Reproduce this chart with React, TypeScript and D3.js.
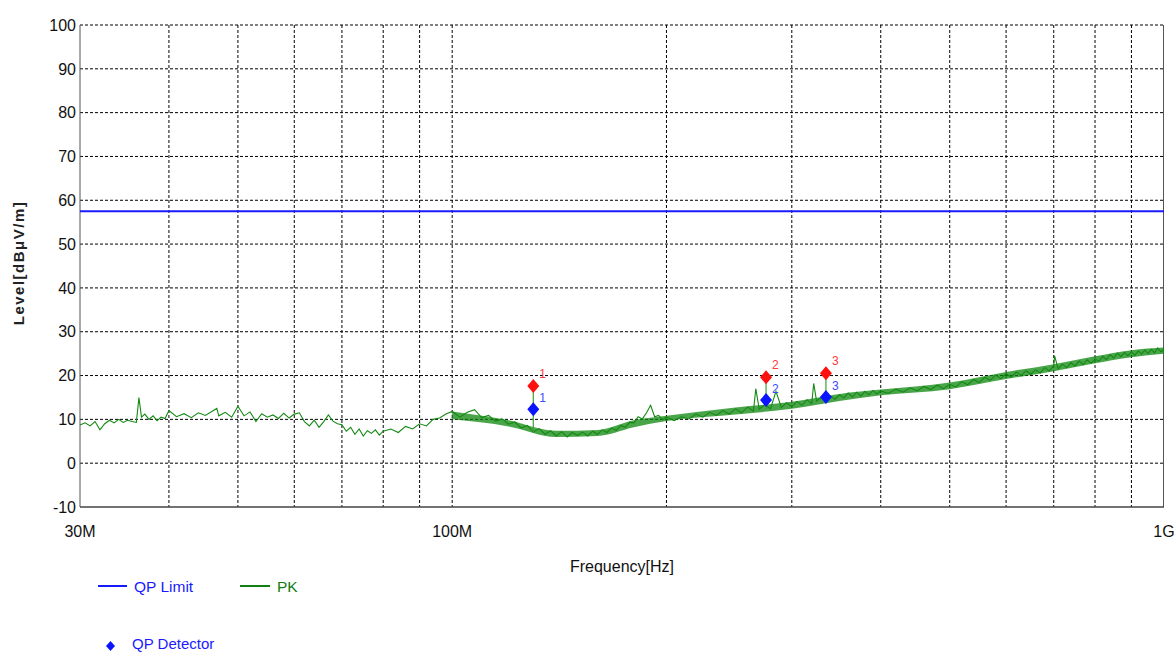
import React from "react";
import * as d3 from "d3";

// axis ticks
const yTicks = [-10, 0, 10, 20, 30, 40, 50, 60, 70, 80, 90, 100];
const xGrid = [40, 50, 60, 70, 80, 90, 100, 200, 300, 400, 500, 600, 700, 800, 900];
const xLabels: [number, string][] = [
  [30, "30M"],
  [100, "100M"],
  [1000, "1G"],
];

// QP limit (dBµV/m)
const limitLevel = 57.5;

// final measurement markers
const markerFreq = [130, 276, 335];
const markerPeak = [17.6, 19.6, 20.5];
const markerQP = [12.3, 14.4, 15.1];

// PK sweep, [MHz, dBµV/m]
const pkTrace: [number, number][] = [
  [30, 8.7], [30.5, 9.2], [31, 8.5], [31.5, 9.5], [32, 7.6], [32.5, 9.0], [33, 9.8], [33.5, 9.2],
  [34, 10.0], [34.5, 9.3], [35, 9.8], [35.5, 9.5], [36, 9.3], [36.3, 15.0], [36.6, 10.5], [37, 11.2],
  [37.5, 10.0], [38, 10.8], [38.5, 9.7], [39, 10.5], [39.5, 10.2], [40, 12.0], [41, 10.6], [42, 11.3],
  [43, 10.4], [44, 11.5], [45, 10.9], [46.7, 12.5], [47, 10.8], [48, 11.6], [49, 10.5], [50, 13.0],
  [51, 10.8], [52, 11.7], [53, 9.5], [54, 11.3], [55, 10.5], [56, 11.0], [57, 10.2], [58, 11.4],
  [59, 10.3], [60, 11.2], [61, 11.5], [62, 9.5], [63, 8.5], [64, 9.8], [65, 8.2], [66, 9.5],
  [67, 11.0], [68, 9.6], [69, 9.0], [70, 8.8], [71, 7.3], [72, 8.2], [73, 6.6], [74, 7.8],
  [75, 6.2], [76, 7.4], [77, 6.8], [78, 7.6], [79, 6.4], [80, 7.3], [82, 7.8], [84, 7.0],
  [86, 8.4], [88, 7.8], [90, 9.0], [92, 8.5], [94, 10.0], [96, 10.3], [98, 11.2], [100, 11.8],
  [102.5, 10.5], [105, 11.6], [107.5, 12.2], [110, 10.4], [112.5, 10.9], [115, 9.6], [117.5, 10.1], [120, 8.9],
  [122.5, 9.4], [125, 8.0], [127.5, 8.6], [130, 7.1], [132.5, 7.9], [135, 6.6], [137.5, 7.4], [140, 6.2],
  [142.5, 7.2], [145, 6.0], [147.5, 7.0], [150, 6.3], [152.5, 7.1], [155, 6.2], [157.5, 7.3], [160, 6.6],
  [162.5, 7.6], [165, 7.0], [167.5, 8.0], [170, 7.5], [172.5, 8.6], [175, 8.2], [177.5, 9.3], [180, 9.2],
  [182.5, 10.6], [185, 10.1], [187.5, 11.5], [190, 13.2], [192.5, 10.6], [195, 10.9], [197.5, 9.9], [200, 10.5],
  [205, 9.7], [210, 10.6], [215, 10.1], [220, 11.2], [225, 10.5], [230, 11.6], [235, 10.9], [240, 12.0],
  [245, 11.2], [250, 12.4], [255, 11.5], [260, 12.8], [265, 11.9], [267, 17.0], [270, 12.3], [275, 13.4],
  [280, 12.4], [285, 16.4], [290, 12.7], [295, 13.8], [300, 12.9], [305, 14.1], [310, 13.2], [315, 14.5],
  [320, 13.6], [322, 18.2], [325, 14.2], [330, 15.0], [335, 14.1], [340, 15.3], [345, 14.6], [350, 15.6],
  [355, 14.9], [360, 16.0], [365, 15.1], [370, 16.2], [375, 15.3], [380, 16.4], [385, 15.6], [390, 16.6],
  [395, 15.8], [400, 16.5], [410, 15.9], [420, 16.9], [430, 16.2], [440, 17.2], [450, 16.5], [460, 17.5],
  [470, 16.8], [480, 17.8], [490, 17.0], [500, 18.0], [510, 17.4], [520, 18.6], [530, 17.9], [540, 19.1],
  [550, 18.4], [560, 19.6], [570, 18.9], [580, 20.1], [590, 19.3], [600, 20.4], [610, 19.6], [620, 20.8],
  [630, 20.0], [640, 21.1], [650, 20.3], [660, 21.3], [670, 20.6], [680, 21.8], [690, 21.0], [700, 22.3],
  [702, 24.5], [710, 21.5], [720, 22.6], [730, 21.8], [740, 22.9], [750, 22.2], [760, 23.3], [770, 22.5],
  [780, 23.6], [790, 22.8], [800, 23.8], [810, 23.2], [820, 24.4], [830, 23.6], [840, 24.8], [850, 24.0],
  [860, 25.1], [870, 24.3], [880, 25.3], [890, 24.5], [900, 25.4], [910, 24.6], [920, 25.6], [930, 24.9],
  [940, 25.8], [950, 25.0], [960, 26.0], [970, 25.2], [980, 26.3], [990, 25.4], [1000, 26.0],
];

// noise band of the sweep above 100 MHz
const bandFreq = [100, 120, 140, 160, 180, 200, 250, 300, 350, 400, 500, 600, 700, 800, 900, 1000];
const bandLow = [10.0, 8.4, 6.0, 6.2, 8.2, 9.6, 11.1, 12.4, 14.2, 15.5, 16.9, 19.2, 21.0, 22.8, 24.2, 25.0];
const bandHigh = [11.8, 9.8, 7.4, 7.6, 9.8, 10.8, 12.7, 14.0, 15.8, 16.8, 18.4, 20.8, 22.6, 24.4, 25.8, 26.4];

const W = 1174;
const H = 653;
const font = "'Liberation Sans', Arial, sans-serif";

const x = d3.scaleLog().domain([30, 1000]).range([80, 1164]);
const y = d3.scaleLinear().domain([-10, 100]).range([507, 25]);

const pkAt = (f: number) => {
  const i = d3.bisector((d: [number, number]) => d[0]).left(pkTrace, f);
  const a = pkTrace[Math.max(0, i - 1)];
  const b = pkTrace[Math.min(pkTrace.length - 1, i)];
  return Math.min(a[1], b[1]);
};

const diamond = (cx: number, cy: number, w: number, h: number) =>
  `M${cx},${cy - h}L${cx + w},${cy}L${cx},${cy + h}L${cx - w},${cy}Z`;

export default function App() {
  const line = d3
    .line<[number, number]>()
    .x((d) => x(d[0]))
    .y((d) => y(d[1]));

  const band = d3
    .area<number>()
    .x((d) => x(d))
    .y0((d, i) => y(bandLow[i]))
    .y1((d, i) => y(bandHigh[i]))
    .curve(d3.curveMonotoneX);

  const [x0, x1] = x.range();
  const [yb, yt] = y.range();

  return (
    <svg
      width={W}
      height={H}
      style={{ position: "absolute", left: 0, top: 0, background: "#fff" }}
      fontFamily={font}
    >
      {/* grid */}
      {yTicks.slice(1).map((v) => (
        <line key={"h" + v} x1={x0} x2={x1} y1={y(v)} y2={y(v)} stroke="#000" strokeDasharray="3,2" />
      ))}
      {xGrid.map((f) => (
        <line key={"v" + f} x1={x(f)} x2={x(f)} y1={yt} y2={yb} stroke="#000" strokeDasharray="3,2" />
      ))}

      {/* frame */}
      <line x1={x0} x2={x0} y1={yt} y2={yb} stroke="#555" />
      <line x1={x1 - 0.5} x2={x1 - 0.5} y1={yt} y2={yb} stroke="#555" />
      <line x1={x0} x2={x1} y1={yb} y2={yb} stroke="#444" strokeWidth={1.5} />

      {/* y tick labels */}
      {yTicks.map((v) => (
        <text key={"yt" + v} x={76} y={y(v)} dy="0.36em" textAnchor="end" fontSize={16} fill="#111">
          {v}
        </text>
      ))}
      {/* x labels */}
      {xLabels.map(([f, t]) => (
        <text key={"xl" + t} x={x(f)} y={537} textAnchor="middle" fontSize={16} fill="#111">
          {t}
        </text>
      ))}
      <text x={622} y={572} textAnchor="middle" fontSize={16} fill="#111">
        Frequency[Hz]
      </text>
      <text
        transform={`translate(24,263) rotate(-90)`}
        textAnchor="middle"
        fontSize={15}
        fontWeight="bold"
        letterSpacing={1.5}
        fill="#222"
      >
        Level[dBμV/m]
      </text>

      {/* limit */}
      <line x1={x0} x2={x1} y1={y(limitLevel)} y2={y(limitLevel)} stroke="#1a1aff" strokeWidth={2} />

      {/* PK sweep */}
      <path d={band(bandFreq) || ""} fill="#0e870e" opacity={0.75} />
      <path d={line(pkTrace) || ""} fill="none" stroke="#128a12" strokeWidth={1.1} />

      {/* markers */}
      {markerFreq.map((f, i) => {
        const cx = x(f);
        return (
          <g key={"m" + i}>
            <line x1={cx} x2={cx} y1={y(markerPeak[i])} y2={y(pkAt(f))} stroke="#3aa03a" strokeWidth={1.2} />
            <path d={diamond(cx, y(markerPeak[i]), 6, 7)} fill="#ff1010" />
            <path d={diamond(cx, y(markerQP[i]), 6, 7)} fill="#0a14ff" />
            <text x={cx + 6} y={y(markerPeak[i]) - 8} fontSize={12} fill="#ff3a3a">
              {i + 1}
            </text>
            <text x={cx + 6} y={y(markerQP[i]) - 7} fontSize={12} fill="#3a4aff">
              {i + 1}
            </text>
          </g>
        );
      })}

      {/* legend */}
      <line x1={98} x2={127} y1={586} y2={586} stroke="#1a1aff" strokeWidth={2} />
      <text x={134} y={592} fontSize={15.5} fill="#1a1aff">
        QP Limit
      </text>
      <line x1={240} x2={270} y1={586} y2={586} stroke="#108010" strokeWidth={2} />
      <text x={277} y={592} fontSize={15.5} fill="#108010">
        PK
      </text>
      <path d={diamond(110.5, 646, 4.5, 5)} fill="#0a14ff" />
      <text x={132} y={649} fontSize={15} fill="#1a1aff">
        QP Detector
      </text>
    </svg>
  );
}
